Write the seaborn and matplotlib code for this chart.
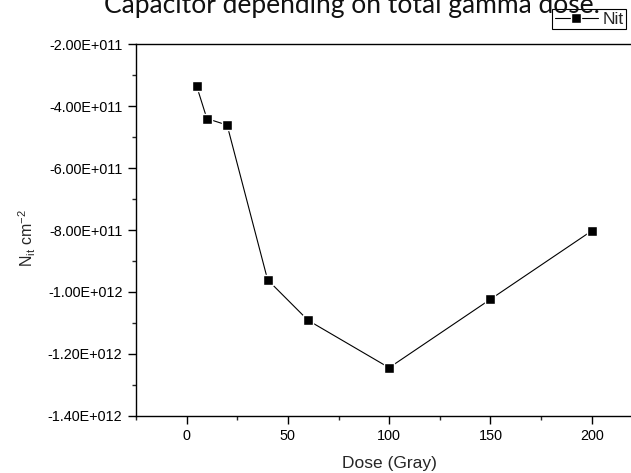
import matplotlib
matplotlib.use("Agg")
import matplotlib.pyplot as plt
import seaborn as sns
import pandas as pd
from matplotlib.ticker import MultipleLocator, FuncFormatter

dose = [5, 10, 20, 40, 60, 100, 150, 200]
nit = [-3.36e11, -4.40e11, -4.61e11, -9.61e11, -1.092e12, -1.245e12, -1.024e12, -8.03e11]
series_name = "Nit"
title_text = "Capacitor depending on total gamma dose."

sns.set_theme(style="ticks")
plt.rcParams['font.family'] = ['Liberation Sans', 'DejaVu Sans']
plt.rcParams['mathtext.fontset'] = 'custom'
plt.rcParams['mathtext.rm'] = 'Liberation Sans'
plt.rcParams['mathtext.it'] = 'Liberation Sans'

df = pd.DataFrame({"Dose": dose, "Nit": nit, "series": series_name})

W, H = 631, 473
fig = plt.figure(figsize=(W / 100, H / 100), dpi=100)
left_px, top_px, bottom_px = 136, 44.3, 415.7
xmin, xmax = -25, 220
px_per_unit = (591.7 - 186.7) / 200
right_px = left_px + (xmax - xmin) * px_per_unit
ax = fig.add_axes([left_px / W, (H - bottom_px) / H,
                   (right_px - left_px) / W, (bottom_px - top_px) / H])

sns.lineplot(data=df, x="Dose", y="Nit", hue="series", palette=["black"],
             marker="s", markersize=7.4, markeredgecolor="white",
             markeredgewidth=1.0, linewidth=0.8, ax=ax, legend=True)

ax.set_xlim(xmin, xmax)
ax.set_ylim(-1.4e12, -2e11)
ax.xaxis.set_major_locator(MultipleLocator(50))
ax.xaxis.set_minor_locator(MultipleLocator(25))
ax.yaxis.set_major_locator(MultipleLocator(2e11))
ax.yaxis.set_minor_locator(MultipleLocator(1e11))

def fmt(v, pos):
    s = "%.2E" % v
    mant, exp = s.split("E")
    return "%sE%s%03d" % (mant, exp[0], abs(int(exp)))

ax.yaxis.set_major_formatter(FuncFormatter(fmt))
ax.tick_params(axis='both', which='major', direction='out', length=5.5, width=1,
               labelsize=10.4, colors='black', pad=4.3)
ax.tick_params(axis='both', which='minor', direction='out', length=3, width=1)
ax.spines['right'].set_visible(False)
for sp in ax.spines.values():
    sp.set_linewidth(1.0)
    sp.set_color('black')

ax.set_xlabel("Dose (Gray)", fontsize=12.5, labelpad=6)
ax.set_ylabel(r"N$_{\mathregular{it}}$ cm$^{\mathregular{-2}}$", fontsize=11.5, labelpad=6)
ax.yaxis.set_label_coords(27 / W, 1 - 238 / H, transform=fig.transFigure)
ax.xaxis.set_label_coords((left_px + 125 * px_per_unit) / W, 1 - 463 / H,
                          transform=fig.transFigure)
ax.xaxis.label.set_verticalalignment('center')
ax.yaxis.label.set_verticalalignment('center')

handles = ax.get_legend_handles_labels()[0]
leg = ax.legend(handles=handles, labels=[series_name],
                loc='upper right', bbox_to_anchor=(626 / W, 1 - 9 / H),
                bbox_transform=fig.transFigure, frameon=True, fancybox=False,
                fontsize=12.5, handlelength=2.5, handletextpad=0.25, borderpad=0.15,
                borderaxespad=0, framealpha=1,
                prop={'family': ['Liberation Sans', 'DejaVu Sans'], 'size': 12.5})
leg.get_frame().set_edgecolor('black')
leg.get_frame().set_linewidth(0.8)
for h in leg.legend_handles:
    h.set_markersize(6.5)

fig.text(352 / W, 1 - 13 / H, title_text, ha='center', va='baseline',
         fontsize=19, family=['Lato', 'DejaVu Sans'], color='#111111')

fig.savefig("out.png", dpi=100)
